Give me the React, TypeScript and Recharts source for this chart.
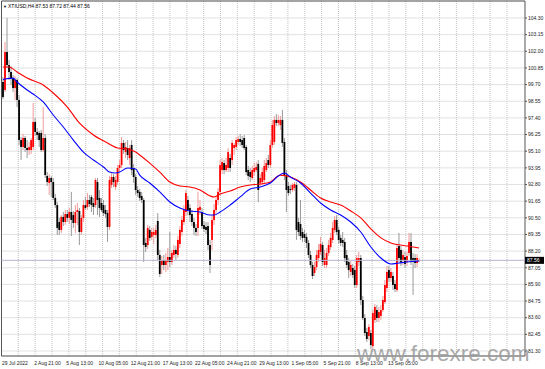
import React from 'react';
import {
  ComposedChart,
  Bar,
  Line,
  XAxis,
  YAxis,
  CartesianGrid,
  ReferenceLine,
  ReferenceArea,
} from 'recharts';

// ---- XTIUSD H4 candles ----
const opens = [
  99.88, 99.33, 101.95, 101.05, 100.57, 100.15, 99.46, 100.02, 98.64, 95.87,
  95.39, 96.01, 95.32, 95.18, 95.18, 95.39, 97.12, 96.43, 96.36, 96.36,
  95.18, 96.01, 93.39, 92.9, 93.25, 92.97, 91.87, 91.38, 90.21, 89.66,
  90.56, 90.21, 90.76, 90.49, 90.9, 90.69, 90.14, 90.9, 90.97, 89.52,
  90.49, 91.38, 91.25, 91.73, 91.94, 91.52, 91.38, 92.97, 91.87, 91.52,
  91.38, 91.04, 90.83, 89.87, 92.77, 93.32, 92.63, 92.97, 93.94, 94.15,
  95.67, 95.04, 95.32, 94.63, 95.53, 93.94, 93.32, 92.42, 92.29, 92.01,
  91.73, 88.76, 88.62, 89.66, 89.18, 89.31, 89.31, 90.28, 87.93, 87.24,
  87.58, 87.24, 87.45, 87.79, 87.45, 87.93, 88.28, 87.93, 88.69, 89.52,
  90.21, 90.9, 91.73, 91.18, 90.76, 90.21, 89.8, 89.8, 91.04, 90.9,
  90.0, 89.87, 89.93, 88.62, 88.97, 90.35, 91.04, 91.73, 92.29, 93.8,
  94.28, 93.8, 93.94, 94.63, 94.49, 95.32, 95.39, 95.74, 95.94, 95.87,
  96.01, 95.39, 93.8, 93.66, 93.25, 93.66, 93.8, 94.22, 92.9, 92.97,
  93.11, 93.8, 94.49, 94.15, 95.53, 95.74, 97.26, 97.05, 96.91, 97.26,
  95.74, 93.45, 92.7, 92.49, 92.42, 92.56, 92.77, 90.21, 90.07, 89.52,
  89.38, 89.18, 88.76, 87.93, 87.24, 86.69, 87.1, 87.72, 88.14, 88.62,
  87.24, 87.24, 88.07, 88.48, 88.97, 89.66, 90.35, 89.66, 89.11, 88.97,
  88.83, 87.93, 87.45, 86.76, 87.03, 86.89, 85.86, 87.45, 87.72, 84.82,
  83.58, 82.61, 82.34, 82.54, 81.64, 83.44, 84.13, 83.58, 83.72, 84.13,
  84.68, 85.65, 86.89, 86.34, 86.48, 85.93, 85.51, 88.55, 88.28, 87.58,
  87.79, 87.45, 88.07, 88.83, 87.72, 87.72, 87.38, 87.53,
];
const highs = [
  100.22, 102.64, 104.3, 101.4, 100.98, 100.36, 100.29, 100.15, 98.98, 96.08,
  96.29, 96.15, 95.87, 95.74, 96.01, 98.43, 97.39, 96.7, 96.5, 96.57,
  98.15, 96.29, 93.66, 93.52, 93.39, 93.25, 92.14, 91.59, 90.49, 90.69,
  90.9, 91.04, 91.04, 91.18, 92.29, 90.97, 91.38, 91.52, 91.18, 90.69,
  91.73, 91.94, 92.21, 92.08, 92.08, 91.87, 93.25, 93.25, 92.42, 91.87,
  91.73, 91.38, 91.04, 93.39, 93.66, 93.52, 93.39, 94.15, 94.49, 96.08,
  95.87, 95.74, 95.87, 95.53, 95.87, 94.22, 93.52, 92.7, 92.49, 92.29,
  91.87, 89.11, 90.0, 89.93, 89.8, 89.8, 90.0, 90.83, 88.28, 87.86,
  87.93, 88.07, 88.41, 89.52, 88.28, 88.62, 88.55, 89.24, 89.93, 90.62,
  91.38, 92.42, 92.01, 91.45, 91.04, 90.49, 90.07, 92.29, 91.73, 91.18,
  90.28, 90.21, 90.21, 88.97, 90.69, 91.45, 92.01, 92.56, 94.49, 94.63,
  94.49, 94.63, 95.32, 94.91, 95.87, 95.67, 96.08, 96.15, 96.29, 96.15,
  96.22, 95.53, 94.08, 93.94, 94.08, 94.28, 94.35, 94.49, 93.52, 93.94,
  94.49, 94.63, 94.84, 95.87, 97.26, 97.53, 97.67, 97.6, 97.53, 97.95,
  96.01, 93.8, 92.97, 92.77, 92.9, 92.97, 92.97, 90.49, 91.73, 89.8,
  89.66, 89.45, 88.97, 88.21, 87.45, 87.45, 88.28, 88.69, 89.18, 88.83,
  88.28, 88.41, 88.97, 89.45, 90.21, 90.62, 90.69, 89.87, 89.31, 89.52,
  89.11, 88.28, 87.72, 87.52, 87.31, 87.17, 87.93, 88.14, 87.93, 85.1,
  83.85, 82.89, 83.16, 82.75, 84.13, 84.55, 84.48, 84.34, 84.48, 85.1,
  86.2, 87.17, 87.17, 87.03, 86.76, 86.2, 88.69, 89.45, 88.55, 88.28,
  88.14, 88.14, 89.45, 89.45, 88.07, 88.0, 88.0, 87.72,
];
const lows = [
  98.7, 99.19, 100.85, 100.02, 99.67, 99.19, 98.64, 98.15, 95.53, 94.49,
  95.18, 95.04, 94.63, 94.84, 94.91, 95.18, 96.15, 95.87, 95.39, 95.04,
  95.04, 93.25, 92.7, 92.08, 91.94, 91.73, 91.18, 89.31, 89.31, 89.45,
  89.93, 90.0, 90.21, 90.07, 89.24, 89.8, 89.45, 90.0, 88.62, 89.31,
  90.21, 91.04, 91.04, 91.25, 90.9, 90.69, 91.18, 90.69, 90.56, 90.9,
  90.62, 90.49, 88.83, 89.66, 92.56, 92.63, 92.42, 92.77, 93.66, 93.94,
  94.91, 94.63, 94.49, 94.15, 93.45, 92.9, 92.08, 91.94, 91.66, 91.52,
  87.45, 88.14, 88.35, 88.9, 88.97, 88.69, 89.11, 87.58, 86.41, 86.62,
  86.89, 86.76, 86.89, 87.1, 87.24, 87.72, 87.58, 87.72, 88.41, 89.24,
  90.0, 90.62, 90.69, 90.21, 89.93, 89.31, 89.24, 89.24, 90.69, 89.73,
  89.52, 89.38, 88.28, 86.69, 88.28, 90.0, 90.76, 91.38, 92.01, 93.52,
  93.52, 93.66, 93.66, 93.66, 94.15, 94.84, 95.18, 95.53, 95.46, 95.32,
  95.18, 93.45, 93.11, 92.97, 93.11, 93.39, 93.66, 91.59, 92.7, 92.77,
  92.9, 93.66, 93.94, 93.94, 95.32, 95.53, 96.84, 96.84, 96.57, 95.39,
  93.11, 90.9, 92.01, 92.14, 92.29, 92.35, 88.97, 89.24, 88.97, 88.83,
  88.83, 88.41, 87.72, 87.03, 86.27, 86.48, 86.89, 87.45, 87.93, 87.17,
  87.03, 87.03, 87.86, 88.28, 88.76, 89.45, 89.31, 88.69, 88.55, 88.48,
  87.45, 87.03, 86.34, 86.48, 86.34, 85.65, 85.65, 87.17, 84.48, 83.44,
  82.34, 81.92, 82.06, 81.44, 81.44, 83.23, 83.3, 83.3, 83.44, 83.99,
  84.55, 85.37, 86.06, 86.06, 85.51, 85.37, 85.37, 87.45, 87.17, 87.24,
  87.03, 87.17, 87.86, 87.24, 85.17, 87.03, 87.1, 87.44,
];
const closes = [
  98.84, 101.95, 101.05, 100.57, 100.15, 99.46, 100.02, 98.64, 95.87, 95.39,
  96.01, 95.32, 95.18, 95.39, 95.87, 97.12, 96.43, 96.22, 95.87, 95.18,
  96.01, 93.45, 92.97, 93.25, 92.97, 91.87, 91.38, 89.8, 89.66, 90.56,
  90.21, 90.76, 90.49, 90.9, 90.35, 90.14, 90.9, 91.04, 89.52, 90.49,
  91.38, 91.18, 91.73, 91.45, 91.38, 91.25, 93.11, 91.73, 91.18, 91.04,
  90.83, 90.76, 89.87, 93.11, 93.32, 92.97, 93.11, 93.94, 94.15, 95.67,
  95.18, 95.39, 94.84, 95.32, 93.8, 93.32, 92.42, 92.21, 91.87, 91.73,
  88.62, 88.48, 89.8, 89.11, 89.52, 89.52, 89.66, 87.93, 86.62, 87.58,
  87.24, 87.58, 87.79, 87.45, 88.07, 88.28, 88.0, 88.97, 89.66, 90.35,
  91.04, 92.21, 91.04, 90.69, 90.21, 89.8, 89.52, 91.18, 91.25, 89.93,
  89.73, 89.66, 88.62, 87.24, 90.35, 91.04, 91.73, 92.29, 94.15, 94.35,
  93.8, 94.15, 95.04, 93.94, 95.67, 95.53, 95.87, 95.94, 95.74, 95.53,
  95.32, 93.66, 93.39, 93.32, 93.8, 93.94, 94.01, 92.42, 93.25, 93.66,
  94.08, 94.28, 94.15, 95.53, 96.91, 97.26, 97.05, 97.26, 97.26, 95.67,
  93.45, 92.42, 92.21, 92.42, 92.77, 92.83, 89.66, 89.52, 89.24, 89.11,
  89.11, 88.76, 87.93, 87.24, 86.48, 87.1, 87.93, 88.28, 88.69, 87.45,
  87.72, 88.07, 88.62, 89.11, 89.8, 90.35, 89.52, 88.97, 88.76, 88.76,
  87.72, 87.24, 86.89, 87.24, 86.55, 85.86, 87.72, 87.72, 84.82, 83.58,
  82.54, 82.13, 82.96, 81.71, 83.92, 84.34, 83.58, 83.99, 84.13, 84.82,
  85.86, 86.76, 86.34, 86.76, 85.86, 85.58, 88.41, 87.72, 87.45, 87.93,
  87.31, 87.86, 88.83, 87.45, 87.45, 87.38, 87.72, 87.56,
];

// ---- moving averages (read at sample bars) ----
const maSlowIdx = [
  0, 3, 7, 12, 20, 25, 32, 38, 45, 52, 57, 62, 66, 68, 73, 78, 83, 88, 93, 98,
  103, 105, 108, 113, 118, 123, 128, 133, 138, 143, 148, 153, 158, 163, 168,
  173, 178, 183, 188, 193, 201, 207,
];
const maSlowVal = [
  100.92, 100.92, 100.57, 100.15, 99.67, 99.12, 98.15, 97.05, 96.22, 95.67,
  95.32, 95.25, 95.04, 94.84, 94.28, 93.66, 92.97, 92.7, 92.63, 92.42,
  92.01, 91.94, 92.14, 92.35, 92.63, 92.77, 92.83, 92.97, 93.45, 93.32,
  92.97, 92.42, 91.87, 91.59, 91.38, 90.97, 90.49, 89.73, 89.11, 88.76,
  88.55, 88.41,
];
const maFastIdx = [
  0, 1, 5, 7, 12, 15, 20, 25, 30, 35, 40, 45, 50, 53, 56, 58, 62, 66, 68, 73,
  78, 83, 88, 93, 98, 103, 105, 108, 113, 118, 123, 128, 133, 137, 140, 143,
  148, 153, 158, 163, 168, 173, 178, 183, 188, 193, 197, 201, 207,
];
const maFastVal = [
  100.02, 100.09, 100.15, 99.88, 99.33, 99.05, 98.5, 97.6, 96.77, 95.87,
  95.04, 94.49, 94.01, 93.66, 93.59, 93.66, 93.94, 93.87, 93.45, 92.9,
  92.29, 91.59, 91.18, 90.97, 90.9, 90.69, 90.69, 90.9, 91.38, 91.94,
  92.49, 92.63, 92.9, 93.39, 93.59, 93.32, 92.9, 92.21, 91.52, 91.04,
  90.69, 90.21, 89.52, 88.48, 87.72, 87.31, 87.38, 87.45, 87.52,
];

// ---- axis labels ----
const timeTickIdx = [0, 16, 32, 48, 64, 80, 96, 112, 128, 144, 160, 176, 192];
const timeTickLabels = [
  '29 Jul 2022', '2 Aug 21:00', '5 Aug 13:00', '10 Aug 05:00', '12 Aug 21:00',
  '17 Aug 13:00', '22 Aug 05:00', '24 Aug 21:00', '29 Aug 13:00', '1 Sep 05:00',
  '5 Sep 21:00', '8 Sep 13:00', '13 Sep 05:00',
];
const priceTicks = [
  81.3, 82.45, 83.6, 84.75, 85.9, 87.05, 88.2, 89.35, 90.5, 91.65, 92.8,
  93.95, 95.1, 96.25, 97.4, 98.55, 99.7, 100.85, 102.0, 103.15, 104.3,
];
const symbolTitle = 'XTIUSD,H4';
const lastBar = { o: 87.53, h: 87.72, l: 87.44, c: 87.56 };
const watermark = 'www.forexre.com';

// ---- layout ----
const W = 545;
const H = 369;
const Y_DOMAIN: [number, number] = [80.954, 105.474];
const X_DOMAIN: [number, number] = [-0.746, 259.7];
const GRID_START = 16.8;
const GRID_STEP = 16.85;
const GRID_COUNT = 30;
const FONT = '"Liberation Sans", Arial, sans-serif';

const data = opens.map((o, i) => {
  const si = maSlowIdx.indexOf(i);
  const fi = maFastIdx.indexOf(i);
  return {
    i,
    o,
    h: highs[i],
    l: lows[i],
    c: closes[i],
    range: [lows[i], highs[i]],
    maSlow: si >= 0 ? maSlowVal[si] : null,
    maFast: fi >= 0 ? maFastVal[fi] : null,
  };
});

const Candle = (props: any) => {
  const { x, y, width, height, payload } = props;
  if (x == null || y == null || !payload) return null;
  const { o, h, l, c } = payload;
  const top0 = Math.min(y, y + height);
  const hh = Math.abs(height);
  const cx = x + width / 2;
  const span = h - l;
  const toY = (v: number) => (span > 0 ? top0 + ((h - v) / span) * hh : top0);
  const up = c >= o;
  const bt = toY(Math.max(o, c));
  const bb = toY(Math.min(o, c));
  const bodyH = Math.max(bb - bt, 0.8);
  return (
    <g>
      <line
        x1={cx}
        x2={cx}
        y1={top0}
        y2={top0 + hh}
        stroke={up ? '#f39a9a' : '#9a9a9a'}
        strokeWidth={1}
      />
      <rect x={cx - 0.9} y={bt} width={1.8} height={bodyH} fill={up ? '#ff0000' : '#000000'} />
    </g>
  );
};

const TimeTick = (props: any) => {
  const { x, y, payload } = props;
  const k = timeTickIdx.indexOf(payload.value);
  if (k < 0) return null;
  return (
    <text x={x - 1} y={y + 6.5} fontSize={5} fontFamily={FONT} fill="#222" textAnchor="start">
      {timeTickLabels[k]}
    </text>
  );
};

const PriceTick = (props: any) => {
  const { x, y, payload } = props;
  return (
    <text x={x} y={y + 1.8} fontSize={5} fontFamily={FONT} fill="#222" textAnchor="start">
      {Number(payload.value).toFixed(2)}
    </text>
  );
};

const PriceTag = (props: any) => {
  const vb = props.viewBox || {};
  const right = (vb.x || 0) + (vb.width || 0);
  const yy = vb.y || 0;
  return (
    <g>
      <rect x={right} y={yy - 3.5} width={19} height={7} fill="#000" />
      <text x={right + 2} y={yy + 1.8} fontSize={5} fontFamily={FONT} fill="#fff">
        {lastBar.c.toFixed(2)}
      </text>
    </g>
  );
};

export default function App() {
  return (
    <div style={{ position: 'absolute', left: 0, top: 0, width: W, height: H, background: '#fff' }}>
      <ComposedChart
        width={W}
        height={H}
        data={data}
        margin={{ top: 1, right: 0, bottom: 0, left: 1.5 }}
      >
        <CartesianGrid
          stroke="#c4c4c4"
          strokeDasharray="1 1"
          verticalCoordinatesGenerator={({ offset }: any) =>
            Array.from({ length: GRID_COUNT }, (_, k) => offset.left + GRID_START + GRID_STEP * k)
          }
        />
        <XAxis
          dataKey="i"
          type="number"
          domain={X_DOMAIN}
          allowDataOverflow
          ticks={timeTickIdx}
          interval={0}
          height={13}
          axisLine={false}
          tickLine={false}
          tickSize={2}
          tickMargin={0}
          tick={<TimeTick />}
        />
        <YAxis
          orientation="right"
          type="number"
          domain={Y_DOMAIN}
          allowDataOverflow
          ticks={priceTicks}
          interval={0}
          width={20}
          axisLine={false}
          tickLine={{ stroke: '#555' }}
          tickSize={2}
          tickMargin={1}
          tick={<PriceTick />}
        />
        <ReferenceArea
          x1={X_DOMAIN[0]}
          x2={X_DOMAIN[1]}
          y1={Y_DOMAIN[0]}
          y2={Y_DOMAIN[1]}
          fill="none"
          stroke="#555"
          strokeWidth={1}
          ifOverflow="extendDomain"
        />
        <ReferenceLine
          y={lastBar.c}
          stroke="#b9b6d2"
          strokeWidth={1}
          label={{ content: <PriceTag /> }}
        />
        <Bar dataKey="range" barSize={2} shape={<Candle />} isAnimationActive={false} />
        <Line
          dataKey="maSlow"
          type="monotone"
          stroke="#ff0000"
          strokeWidth={1.1}
          dot={false}
          connectNulls
          isAnimationActive={false}
        />
        <Line
          dataKey="maFast"
          type="monotone"
          stroke="#0000ff"
          strokeWidth={1.1}
          dot={false}
          connectNulls
          isAnimationActive={false}
        />
      </ComposedChart>
      <svg
        width={W}
        height={H}
        style={{ position: 'absolute', left: 0, top: 0, pointerEvents: 'none' }}
      >
        <text x={3} y={7.5} fontSize={4} fontFamily={FONT} fill="#000">
          ▼
        </text>
        <text x={8} y={7.5} fontSize={5} fontFamily={FONT} fill="#000">
          {`${symbolTitle} ${lastBar.o.toFixed(2)} ${lastBar.h.toFixed(2)} ${lastBar.l.toFixed(2)} ${lastBar.c.toFixed(2)}`}
        </text>
        <text x={357} y={361} fontSize={22.5} fontFamily={FONT} fill="#9a9a9a" fillOpacity={0.85}>
          {watermark}
        </text>
      </svg>
    </div>
  );
}
